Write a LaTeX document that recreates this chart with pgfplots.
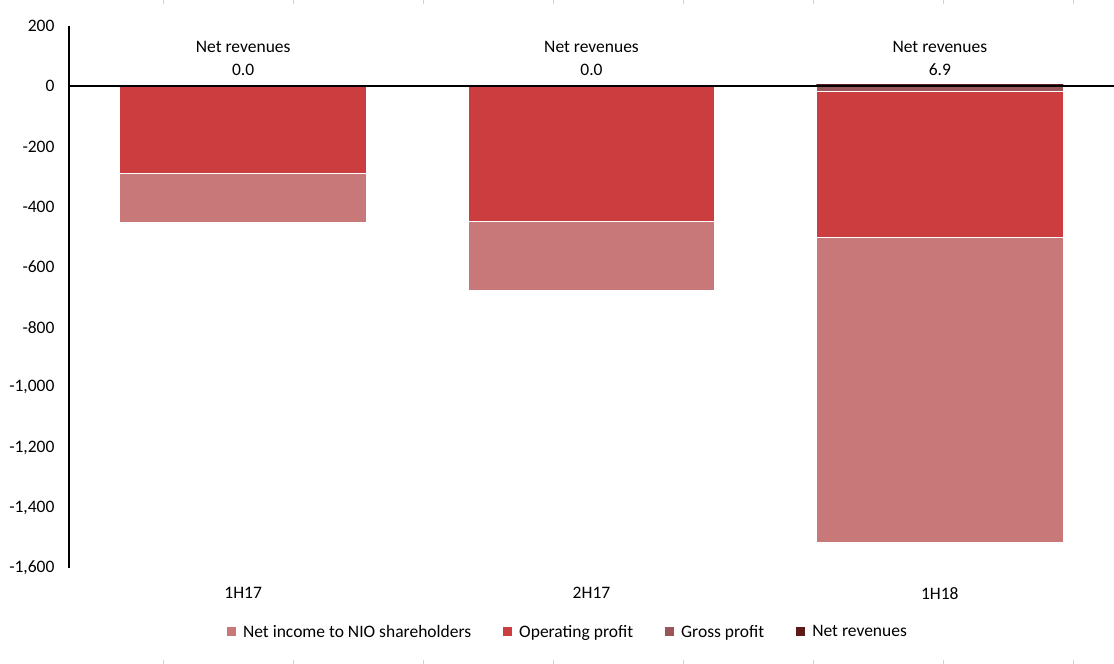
\documentclass[border=0pt]{standalone}
\usepackage{pgfplots}
\pgfplotsset{compat=1.18}
\usepackage{fontspec}
\setmainfont{Carlito}
\definecolor{netinc}{HTML}{C9787A}
\definecolor{opprof}{HTML}{CC3D3F}
\definecolor{gross}{HTML}{985658}
\definecolor{netrev}{HTML}{5C1A1A}
\begin{document}
\begin{tikzpicture}
\useasboundingbox (0,0) rectangle (1114pt,664pt);
\foreach \x in {163,293,423,553,683,813,943,1073}{
  \draw[gray!35, line width=1pt] (\x pt,664pt) -- (\x pt,660pt);
  \draw[gray!35, line width=1pt] (\x pt,0pt) -- (\x pt,4pt);
}
\begin{axis}[
  at={(69pt,96pt)}, anchor=south west,
  scale only axis, width=1045pt, height=542pt,
  xmin=-0.5, xmax=2.5, ymin=-1600, ymax=200,
  axis x line*=bottom, axis y line*=left,
  x axis line style={draw=none},
  y axis line style={black, line width=1.6pt},
  major tick length=0pt,
  xtick={0,1,2}, xticklabels={1H17,2H17,1H18},
  ytick={-1600,-1400,...,200},
  font=\fontsize{17.5}{21}\selectfont,
  /pgf/number format/assume math mode=true,
  /pgf/number format/.cd, 1000 sep={,}, /pgfplots/.cd,
  yticklabel style={xshift=-11pt},
  xticklabel style={yshift=-16pt},
  axis on top,
  extra y ticks={0}, extra y tick labels={},
  extra y tick style={grid=major, major grid style={black, line width=2.2pt}},
  legend columns=4,
  legend style={draw=none, at={(0.4775,-0.118)}, anchor=center,
    font=\fontsize{17.5}{21}\selectfont,
    /tikz/every odd column/.append style={column sep=5pt},
    /tikz/every even column/.append style={column sep=30pt}},
  legend image code/.code={\fill[#1,draw=none] (0pt,-4.5pt) rectangle (9pt,4.5pt);},
]
\addplot[ybar, bar width=247pt, bar shift=0pt, fill=netinc, draw=white, line width=1.2pt]
  coordinates {(0,-453) (1,-680) (2,-1517)};
\addlegendentry{Net income to NIO shareholders}
\addplot[ybar, bar width=247pt, bar shift=0pt, fill=opprof, draw=white, line width=1.2pt]
  coordinates {(0,-290) (1,-450) (2,-502)};
\addlegendentry{Operating profit}
\addplot[ybar, bar width=247pt, bar shift=0pt, fill=gross, draw=white, line width=1.2pt]
  coordinates {(0,0) (1,0) (2,-17)};
\addlegendentry{Gross profit}
\addplot[ybar, bar width=247pt, bar shift=0pt, fill=netrev, draw=none]
  coordinates {(0,0) (1,0) (2,6.9)};
\addlegendentry{Net revenues}
\addplot[draw=none, mark=none, forget plot, point meta=explicit,
  nodes near coords={Net revenues\\\pgfmathprintnumber[fixed,fixed zerofill,precision=1]{\pgfplotspointmeta}},
  nodes near coords style={align=center, anchor=south, yshift=7pt, text=black,
    font=\fontsize{17.5}{23}\selectfont}]
  coordinates {(0,0) [0] (1,0) [0] (2,0) [6.9]};
\end{axis}
\end{tikzpicture}
\end{document}
